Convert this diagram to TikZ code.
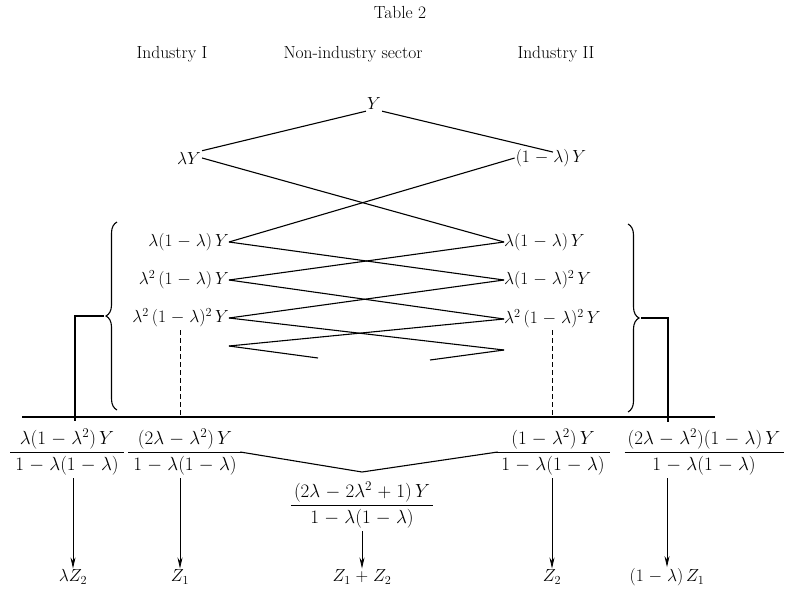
\documentclass[tikz,border=0pt]{standalone}
\usepackage{fix-cm}
\usepackage{amsmath}
\usetikzlibrary{arrows.meta,decorations.pathreplacing,calc}
\newcommand{\myfr}[2]{\dfrac{\,#1\,}{\;#2\;}}
\begin{document}
\begin{tikzpicture}[x=1pt,y=-1pt,
  every node/.style={inner sep=1pt,font=\fontsize{17.5}{21}\selectfont},
  txt/.style={font=\fontsize{17.5}{20}\selectfont},
  frc/.style={font=\fontsize{19}{22}\selectfont},
  ln/.style={line width=1.1pt},
  dsh/.style={line width=0.9pt,dash pattern=on 5pt off 3pt},
  arr/.style={line width=0.8pt,-{Stealth[length=11pt,width=5pt]}},
  brc/.style={line width=1.1pt,decorate,decoration={brace,amplitude=11pt}}]
\useasboundingbox (0,0) rectangle (789,589);
\medmuskip=5mu plus 2mu minus 2mu
% headings
\node[txt] (title) at (400,12) {Table 2};
\node[txt] (ind1) at (172,54) {Industry I};
\node[txt] (non) at (353,54) {Non-industry sector};
\node[txt] (ind2) at (556,54) {Industry II};
% tree
\node (Y) at (374,104) {$Y$};
\node (lY) at (189,158) {$\lambda Y$};
\node (mY) at (551,158) {$(1-\lambda)\,Y$};
\node[anchor=east,inner sep=0pt] (a1) at (229,242) {$\lambda(1-\lambda)\,Y$};
\node[anchor=east,inner sep=0pt] (a2) at (229,280) {$\lambda^2\,(1-\lambda)\,Y$};
\node[anchor=east,inner sep=0pt] (a3) at (229,318) {$\lambda^2\,(1-\lambda)^2\,Y$};
\node[anchor=west,inner sep=0pt] (b1) at (504,242) {$\lambda(1-\lambda)\,Y$};
\node[anchor=west,inner sep=0pt] (b2) at (504,280) {$\lambda(1-\lambda)^2\,Y$};
\node[anchor=west,inner sep=0pt] (b3) at (504,319) {$\lambda^2\,(1-\lambda)^2\,Y$};
\coordinate (L4) at (229,346);
\coordinate (L4e) at (318,358);
\coordinate (R4) at (504,350);
\coordinate (R4e) at (430,360);
\draw[ln] (Y.south west) -- (lY.north east);
\draw[ln] (Y.south east) -- ($(mY.north)+(2,4)$);
\draw[ln] (lY.east) -- (b1.west);
\draw[ln] (mY.west) -- (a1.east);
\draw[ln] (a1.east) -- (b2.west);
\draw[ln] (b1.west) -- (a2.east);
\draw[ln] (a2.east) -- (b3.west);
\draw[ln] (b2.west) -- (a3.east);
\draw[ln] (a3.east) -- (R4);
\draw[ln] (b3.west) -- (L4);
\draw[ln] (L4) -- (L4e);
\draw[ln] (R4) -- (R4e);
% braces
\draw[brc] (117,410) -- (117,222);
\draw[brc] (628,224) -- (628,412);
\coordinate (lt) at (104,316);
\coordinate (lc) at (75,316);
\coordinate (lb) at (75,421);
\coordinate (rt) at (641,318);
\coordinate (rc) at (668,318);
\coordinate (rb) at (668,422);
\draw[ln] (lt) -- (lc) -- (lb);
\draw[ln] (rt) -- (rc) -- (rb);
\coordinate (bl) at (22,417);
\coordinate (br) at (715,417);
\draw[ln] (bl) -- (br);
\coordinate (d1) at (180,330);
\coordinate (d2) at (552,330);
\draw[dsh] (d1) -- (d1 |- bl);
\draw[dsh] (d2) -- (d2 |- bl);
% fractions
\node[frc,inner sep=0pt] (F1) at (67,452) {$\myfr{\lambda(1-\lambda^2)\,Y}{1-\lambda(1-\lambda)}$};
\node[frc,inner sep=0pt] (F2) at (185,452) {$\myfr{(2\lambda-\lambda^2)\,Y}{1-\lambda(1-\lambda)}$};
\node[frc,inner sep=0pt] (F3) at (362,505) {$\myfr{(2\lambda-2\lambda^2+1)\,Y}{1-\lambda(1-\lambda)}$};
\node[frc,inner sep=0pt] (F4) at (553,452) {$\myfr{(1-\lambda^2)\,Y}{1-\lambda(1-\lambda)}$};
\node[frc,inner sep=0pt] (F5) at (704,452) {$\myfr{(2\lambda-\lambda^2)(1-\lambda)\,Y}{1-\lambda(1-\lambda)}$};
\coordinate (V) at (362,472);
\draw[ln] ([xshift=-3pt]F2.east) -- (V) -- ([xshift=3pt]F4.west);
% results
\node (z1) at (73,577) {$\lambda Z_2$};
\node (z2) at (180,577) {$Z_1$};
\node (z3) at (362,577) {$Z_1+Z_2$};
\node (z4) at (552,577) {$Z_2$};
\node (z5) at (667,577) {$(1-\lambda)\,Z_1$};
\draw[arr] ([yshift=-3pt]F1.south -| z1.north) -- (z1.north);
\draw[arr] ([yshift=-3pt]F2.south -| z2.north) -- (z2.north);
\draw[arr] ([yshift=-3pt]F3.south -| z3.north) -- (z3.north);
\draw[arr] ([yshift=-3pt]F4.south -| z4.north) -- (z4.north);
\draw[arr] ([yshift=-3pt]F5.south -| z5.north) -- (z5.north);
\end{tikzpicture}
\end{document}
